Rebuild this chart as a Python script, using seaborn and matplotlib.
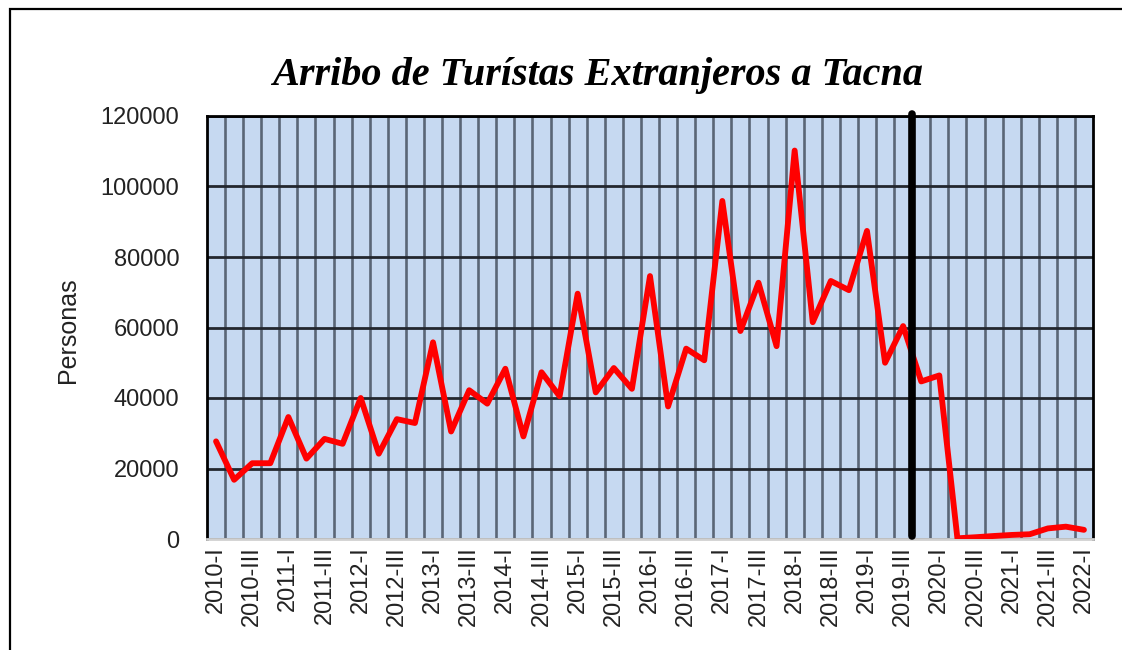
import matplotlib
matplotlib.use("Agg")
import matplotlib.pyplot as plt
import matplotlib.patches as mpatches
import seaborn as sns
import pandas as pd
import numpy as np

years = list(range(2010, 2023))
roman = ["I", "II", "III", "IV"]
quarters = [f"{y}-{r}" for y in years for r in roman][:49]

arrivals = [
    27700, 16800, 21500, 21500, 34600, 22800, 28400, 27000,
    40000, 24200, 34000, 32900, 55800, 30500, 42200, 38400,
    48300, 29100, 47300, 40500, 69600, 41600, 48500, 42600,
    74600, 37600, 54000, 50700, 95900, 59000, 72700, 54700,
    110200, 61500, 73200, 70600, 87400, 50000, 60400, 44700,
    46400, 200, 500, 850, 1150, 1350, 3000, 3500, 2600,
]
yticks = [0, 20000, 40000, 60000, 80000, 100000, 120000]
marker_quarter = "2019-III"

df = pd.DataFrame({"pos": np.arange(len(quarters)), "Trimestre": quarters, "Personas": arrivals})

sns.set_theme(style="white")
plt.rcParams["font.family"] = ["Liberation Sans", "DejaVu Sans"]

fig = plt.figure(figsize=(11.22, 6.5), dpi=100)
ax = fig.add_axes([207/1122, 1-539/650, (1093-207)/1122, (539-116)/650])
ax.set_facecolor("#c6d9f1")

sns.lineplot(data=df, x="pos", y="Personas", ax=ax, color="#ff0000", linewidth=4.2, zorder=5)

n = len(quarters)
ax.set_xlim(-0.5, n - 0.5)
ax.set_ylim(0, 120000)
ax.set_yticks(yticks)
ax.set_yticklabels([str(v) for v in yticks], fontsize=17, color="#222222")
ax.set_xticks(np.arange(0, n, 2))
ax.set_xticklabels(quarters[::2], rotation=90, fontsize=17, color="#222222")
ax.set_xticks(np.arange(0.5, n - 1, 1), minor=True)
ax.tick_params(axis="both", which="both", length=0)
ax.tick_params(axis="y", pad=20)
ax.tick_params(axis="x", pad=5)
ax.set_xlabel("")
ax.set_ylabel("")

ax.grid(False)
ax.grid(True, axis="x", which="minor", color="#5a6676", linewidth=1.9, zorder=1)
ax.grid(True, axis="y", which="major", color="#23272e", linewidth=2.0, zorder=1)
ax.set_axisbelow(True)

for s in ["left", "top", "right"]:
    ax.spines[s].set_color("black")
    ax.spines[s].set_linewidth(2.0)
ax.spines["bottom"].set_color("#d0d0d0")
ax.spines["bottom"].set_linewidth(2.0)

mpos = quarters.index(marker_quarter) + 0.5
ax.axvline(mpos, ymin=0.008, ymax=1.005, color="black", linewidth=5.5, zorder=6, clip_on=False)

fig.text(598/1122, 1-75/650, "Arribo de Turístas Extranjeros a Tacna",
         ha="center", va="center", fontsize=29, fontweight="bold", fontstyle="italic",
         family=["Liberation Serif", "DejaVu Serif"], color="black")
fig.text(68/1122, 1-330/650, "Personas", rotation=90, ha="center", va="center",
         fontsize=18, color="#222222")

border = mpatches.Rectangle((10/1122, -0.2), 1.2, 1.2 - 9/650, transform=fig.transFigure,
                            fill=False, edgecolor="black", linewidth=1.6, clip_on=False)
fig.patches.append(border)

fig.savefig("out.png", dpi=100, facecolor="white")
